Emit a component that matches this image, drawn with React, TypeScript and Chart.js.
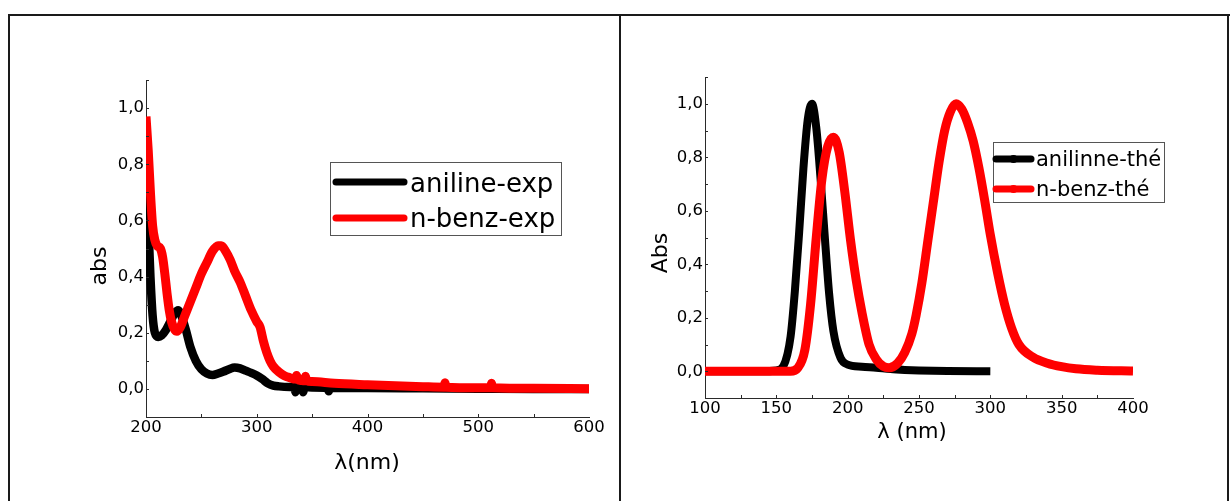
import React, { useEffect, useRef } from 'react';
import { Chart, registerables } from 'chart.js';

Chart.register(...registerables);

// ---------- DATA ----------
// Left panel: experimental spectra
const expAnilineWavelength = [200, 202, 204, 206, 208, 211, 214, 218, 222, 226, 229, 232, 236, 240, 245, 250, 255, 260, 265, 270, 275, 280, 285, 290, 295, 300, 305, 310, 315, 320, 330, 334, 335, 336, 340, 342, 343, 350, 364, 365, 366, 400, 450, 500, 550, 600];
const expAnilineAbs = [0.82, 0.6, 0.4, 0.26, 0.2, 0.185, 0.19, 0.21, 0.24, 0.27, 0.28, 0.26, 0.21, 0.15, 0.1, 0.07, 0.055, 0.05, 0.055, 0.062, 0.07, 0.076, 0.073, 0.065, 0.057, 0.048, 0.035, 0.02, 0.012, 0.009, 0.007, 0.006, -0.012, 0.006, 0.006, -0.012, 0.006, 0.005, 0.004, -0.008, 0.004, 0.003, 0.002, 0.001, 0.0, 0.0];

const expBenzWavelength = [200, 202, 204, 206, 208, 210, 213, 215, 217, 219, 221, 223, 226, 228, 231, 235, 240, 245, 250, 255, 260, 265, 268, 272, 276, 280, 285, 290, 295, 300, 303, 306, 309, 312, 315, 320, 325, 330, 335, 336, 337, 340, 343, 344, 345, 350, 370, 400, 450, 469, 470, 471, 500, 511, 512, 513, 550, 600];
const expBenzAbs = [0.97, 0.85, 0.7, 0.58, 0.53, 0.51, 0.5, 0.47, 0.41, 0.34, 0.28, 0.24, 0.21, 0.205, 0.22, 0.26, 0.31, 0.36, 0.41, 0.45, 0.49, 0.51, 0.51, 0.49, 0.46, 0.42, 0.38, 0.33, 0.28, 0.24, 0.22, 0.17, 0.13, 0.1, 0.08, 0.06, 0.047, 0.04, 0.035, 0.048, 0.034, 0.03, 0.029, 0.045, 0.029, 0.026, 0.02, 0.015, 0.008, 0.006, 0.022, 0.006, 0.004, 0.004, 0.02, 0.004, 0.002, 0.001];

// Right panel: theoretical spectra
const theoAnilineWavelength = [100, 140, 150, 155, 160, 163, 166, 169, 172, 175, 178, 181, 184, 187, 190, 195, 200, 210, 220, 230, 240, 250, 270, 300];
const theoAnilineAbs = [0, 0, 0.003, 0.02, 0.13, 0.3, 0.52, 0.76, 0.94, 1.0, 0.91, 0.72, 0.5, 0.29, 0.15, 0.05, 0.025, 0.017, 0.013, 0.008, 0.005, 0.003, 0.001, 0];

const theoBenzWavelength = [100, 160, 165, 170, 174, 178, 182, 186, 190, 194, 198, 202, 206, 210, 215, 220, 225, 229, 235, 240, 245, 248, 252, 256, 260, 264, 268, 272, 276, 280, 284, 288, 292, 296, 300, 305, 310, 315, 320, 330, 340, 350, 360, 375, 400];
const theoBenzAbs = [0, 0, 0.012, 0.08, 0.25, 0.5, 0.72, 0.84, 0.875, 0.82, 0.67, 0.49, 0.34, 0.22, 0.1, 0.045, 0.018, 0.013, 0.03, 0.07, 0.14, 0.21, 0.33, 0.48, 0.63, 0.78, 0.9, 0.97, 1.0, 0.98, 0.93, 0.86, 0.76, 0.64, 0.51, 0.37, 0.25, 0.16, 0.1, 0.052, 0.03, 0.017, 0.009, 0.004, 0.001];

// Tick labels
const leftXTicks = [200, 300, 400, 500, 600];
const rightXTicks = [100, 150, 200, 250, 300, 350, 400];
const yTicks = [0, 0.2, 0.4, 0.6, 0.8, 1.0];
const yMinorTicks = [0, 0.1, 0.2, 0.3, 0.4, 0.5, 0.6, 0.7, 0.8, 0.9, 1.0, 1.1];
const leftXMinorTicks = [250, 300, 350, 400, 450, 500, 550];
const rightXMinorTicks = [125, 150, 175, 200, 225, 250, 275, 300, 325, 350, 375];

const leftLabels = ['aniline-exp', 'n-benz-exp'];
const rightLabels = ['anilinne-thé', 'n-benz-thé'];

// ---------- STYLE ----------
const FONT = '"DejaVu Sans", "Liberation Sans", Arial, sans-serif';
const AXIS_COLOR = '#2a2a2a';
const BLACK = '#000000';
const RED = '#ff0000';

const toPoints = (xs: number[], ys: number[]) => xs.map((x, i) => ({ x, y: ys[i] }));

const decorPlugin = {
  id: 'decor',
  afterDraw(chart: any, _args: any, opts: any) {
    const ctx = chart.ctx as CanvasRenderingContext2D;
    const xs = chart.scales.x;
    const ys = chart.scales.y;
    const area = chart.chartArea;
    ctx.save();
    // inward minor ticks
    ctx.strokeStyle = AXIS_COLOR;
    ctx.lineWidth = 1;
    ctx.beginPath();
    for (const v of opts.yMinor) {
      const py = Math.round(ys.getPixelForValue(v)) + 0.5;
      ctx.moveTo(area.left, py);
      ctx.lineTo(area.left + 3, py);
    }
    for (const v of opts.xMinor) {
      const px = Math.round(xs.getPixelForValue(v)) + 0.5;
      ctx.moveTo(px, area.bottom);
      ctx.lineTo(px, area.bottom - 3);
    }
    ctx.stroke();

    // axis titles
    ctx.fillStyle = '#000';
    ctx.textAlign = 'center';
    ctx.textBaseline = 'middle';
    const ox = opts.offsetX, oy = opts.offsetY;
    ctx.font = `${opts.xTitle.size}px ${FONT}`;
    ctx.fillText(opts.xTitle.text, opts.xTitle.x - ox, opts.xTitle.y - oy);
    ctx.save();
    ctx.translate(opts.yTitle.x - ox, opts.yTitle.y - oy);
    ctx.rotate(-Math.PI / 2);
    ctx.font = `${opts.yTitle.size}px ${FONT}`;
    ctx.fillText(opts.yTitle.text, 0, 0);
    ctx.restore();

    // legend box
    const L = opts.legend;
    ctx.strokeStyle = '#555';
    ctx.lineWidth = 1;
    ctx.fillStyle = '#fff';
    ctx.fillRect(L.x - ox, L.y - oy, L.w, L.h);
    ctx.strokeRect(L.x - ox + 0.5, L.y - oy + 0.5, L.w, L.h);
    chart.data.datasets.forEach((ds: any, i: number) => {
      const ly = L.lineY[i] - oy;
      ctx.strokeStyle = ds.borderColor;
      ctx.lineWidth = L.lineWidth;
      ctx.lineCap = 'round';
      ctx.beginPath();
      ctx.moveTo(L.lineX0 - ox, ly);
      ctx.lineTo(L.lineX1 - ox, ly);
      ctx.stroke();
      if (L.marker) {
        ctx.fillStyle = ds.borderColor;
        ctx.beginPath();
        ctx.arc((L.lineX0 + L.lineX1) / 2 - ox, ly, L.marker, 0, Math.PI * 2);
        ctx.fill();
      }
      ctx.fillStyle = '#000';
      ctx.font = `${L.size}px ${FONT}`;
      ctx.textAlign = 'left';
      ctx.textBaseline = 'alphabetic';
      ctx.fillText(ds.label, L.textX - ox, L.baseY[i] - oy);
    });
    ctx.restore();
  },
};

type PanelProps = {
  left: number; top: number; width: number; height: number;
  area: { left: number; right: number; top: number; bottom: number };
  xMin: number; xMax: number; xTicks: number[]; xMinor: number[];
  datasets: any[];
  xTitle: any; yTitle: any; legend: any;
};

function Panel(p: PanelProps) {
  const ref = useRef<HTMLCanvasElement | null>(null);
  useEffect(() => {
    if (!ref.current) return;
    const cl = p.area.left - p.left;
    const cr = p.area.right - p.left;
    const ct = p.area.top - p.top;
    const cb = p.area.bottom - p.top;
    const chart = new Chart(ref.current, {
      type: 'line',
      data: { datasets: p.datasets },
      plugins: [decorPlugin],
      options: {
        responsive: false,
        animation: false,
        devicePixelRatio: 1,
        layout: { padding: { left: 0, right: p.width - cr, top: ct, bottom: 0 } },
        elements: { point: { radius: 0 } },
        plugins: {
          legend: { display: false },
          tooltip: { enabled: false },
          decor: {
            offsetX: p.left, offsetY: p.top,
            yMinor: yMinorTicks, xMinor: p.xMinor,
            xTitle: p.xTitle, yTitle: p.yTitle, legend: p.legend,
          },
        } as any,
        scales: {
          x: {
            type: 'linear',
            min: p.xMin,
            max: p.xMax,
            grid: { display: false, drawTicks: false },
            border: { display: true, color: AXIS_COLOR, width: 1 },
            ticks: {
              font: { family: FONT, size: 16.5 },
              color: '#000',
              padding: 1,
              maxRotation: 0,
              autoSkip: false,
            },
            afterBuildTicks: (s: any) => { s.ticks = p.xTicks.map((v) => ({ value: v })); },
            afterFit: (s: any) => { s.height = p.height - cb; },
          },
          y: {
            type: 'linear',
            min: -0.1,
            max: 1.1,
            grid: { display: false, drawTicks: false },
            border: { display: true, color: AXIS_COLOR, width: 1 },
            ticks: {
              font: { family: FONT, size: 16.5 },
              color: '#000',
              padding: 2,
              autoSkip: false,
              callback: (v: any) => Number(v).toFixed(1).replace('.', ','),
            },
            afterBuildTicks: (s: any) => { s.ticks = yTicks.map((v) => ({ value: v })); },
            afterFit: (s: any) => { s.width = cl; },
          },
        },
      } as any,
    });
    return () => chart.destroy();
  }, []);
  return (
    <canvas
      ref={ref}
      width={p.width}
      height={p.height}
      style={{ position: 'absolute', left: p.left, top: p.top, width: p.width, height: p.height }}
    />
  );
}

const lineDs = (label: string, color: string, xs: number[], ys: number[], order: number, width: number) => ({
  label,
  data: toPoints(xs, ys),
  borderColor: color,
  backgroundColor: color,
  borderWidth: width,
  pointRadius: 0,
  cubicInterpolationMode: 'monotone',
  borderJoinStyle: 'round',
  borderCapStyle: 'butt',
  clip: 0,
  order,
});

export default function App() {
  const frame = (l: number, t: number, w: number, h: number) => (
    <div style={{ position: 'absolute', left: l, top: t, width: w, height: h, background: '#1a1a1a' }} />
  );
  return (
    <div style={{ position: 'fixed', left: 0, top: 0, width: 1230, height: 501, background: '#fff', overflow: 'hidden' }}>
      {frame(8, 14, 1222, 2)}
      {frame(8, 14, 2, 487)}
      {frame(619, 14, 2, 487)}
      {frame(1227, 14, 2, 487)}
      <Panel
        left={10} top={17} width={608} height={484}
        area={{ left: 146, right: 589, top: 80, bottom: 417 }}
        xMin={200} xMax={600} xTicks={leftXTicks} xMinor={leftXMinorTicks}
        datasets={[
          lineDs(leftLabels[0], BLACK, expAnilineWavelength, expAnilineAbs, 1, 8.5),
          lineDs(leftLabels[1], RED, expBenzWavelength, expBenzAbs, 0, 9),
        ]}
        xTitle={{ text: 'λ(nm)', x: 367, y: 463, size: 22 }}
        yTitle={{ text: 'abs', x: 100, y: 266, size: 22 }}
        legend={{
          x: 330, y: 162, w: 231, h: 73, size: 26,
          lineX0: 336, lineX1: 404, lineY: [182, 218], lineWidth: 7, marker: 0,
          textX: 410, baseY: [192, 227],
        }}
      />
      <Panel
        left={622} top={17} width={604} height={484}
        area={{ left: 705, right: 1133, top: 77, bottom: 398 }}
        xMin={100} xMax={400} xTicks={rightXTicks} xMinor={rightXMinorTicks}
        datasets={[
          lineDs(rightLabels[0], BLACK, theoAnilineWavelength, theoAnilineAbs, 1, 8),
          lineDs(rightLabels[1], RED, theoBenzWavelength, theoBenzAbs, 0, 9),
        ]}
        xTitle={{ text: 'λ (nm)', x: 912, y: 433, size: 21 }}
        yTitle={{ text: 'Abs', x: 661, y: 253, size: 22 }}
        legend={{
          x: 993, y: 142, w: 171, h: 60, size: 21,
          lineX0: 996, lineX1: 1031, lineY: [159, 189], lineWidth: 7, marker: 4,
          textX: 1036, baseY: [166, 196],
        }}
      />
    </div>
  );
}
